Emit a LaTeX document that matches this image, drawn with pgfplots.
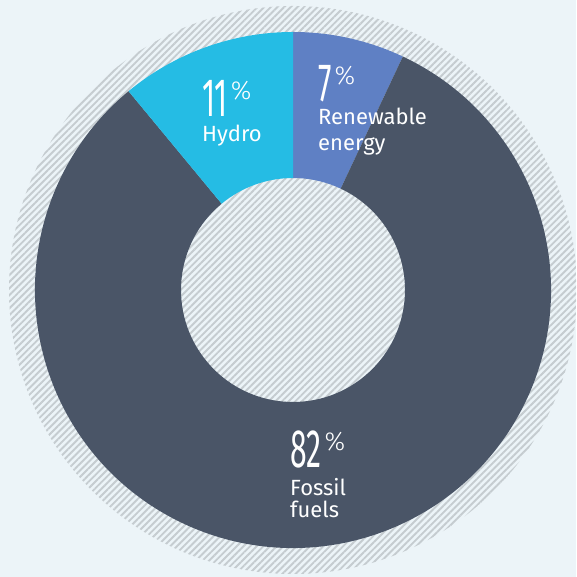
\documentclass[border=0pt]{standalone}
\usepackage{pgfplots}
\pgfplotsset{compat=1.18}
\usepackage{pgfplotstable}
\usepackage{graphicx}
\usepackage{fontspec}
\setmainfont{Fira Sans}
\newfontfamily\lightfont{Fira Sans}[UprightFont={* Light}]
\usetikzlibrary{patterns.meta}

\definecolor{bgcol}{HTML}{ECF4F8}
\definecolor{hatchcol}{HTML}{C5CCD0}
\definecolor{fossil}{HTML}{4A5567}
\definecolor{hydro}{HTML}{25BCE4}
\definecolor{renew}{HTML}{5F80C4}

% shares in percent
\pgfplotstableread{
share
82
11
7
}\sharetable

\newcommand{\bignum}[1]{\scalebox{0.56}[1]{\fontsize{54}{60}\selectfont #1}\hspace{3pt}\raisebox{17pt}{\lightfont\fontsize{26}{30}\selectfont\%}}

\begin{document}
\begin{tikzpicture}
\pgfplotstablegetelem{0}{share}\of\sharetable \let\vfossil\pgfplotsretval
\pgfplotstablegetelem{1}{share}\of\sharetable \let\vhydro\pgfplotsretval
\pgfplotstablegetelem{2}{share}\of\sharetable \let\vrenew\pgfplotsretval
% angles, clockwise from the top
\pgfmathsetmacro\aA{90}
\pgfmathsetmacro\aB{90-3.6*\vrenew}
\pgfmathsetmacro\aC{\aB-3.6*\vfossil}
\pgfmathsetmacro\aD{\aC-3.6*\vhydro}
\def\Ro{258pt}
\def\Ri{112pt}
\begin{axis}[
  scale only axis, width=576pt, height=577pt,
  xmin=-293, xmax=283, ymin=-287, ymax=290,
  axis line style={draw=none}, ticks=none,
  axis background/.style={fill=bgcol},
  clip=true,
]
\fill[pattern={Lines[angle=45, distance=4.7pt, line width=1.9pt]}, pattern color=hatchcol]
  (axis cs:0,0) circle[radius=284pt];
\begin{scope}[shift={(axis cs:0,0)}]
\fill[renew] (\aA:\Ro) arc[start angle=\aA, end angle=\aB, radius=\Ro]
  -- (\aB:\Ri) arc[start angle=\aB, end angle=\aA, radius=\Ri] -- cycle;
\fill[fossil] (\aB:\Ro) arc[start angle=\aB, end angle=\aC, radius=\Ro]
  -- (\aC:\Ri) arc[start angle=\aC, end angle=\aB, radius=\Ri] -- cycle;
\fill[hydro] (\aC:\Ro) arc[start angle=\aC, end angle=\aD, radius=\Ro]
  -- (\aD:\Ri) arc[start angle=\aD, end angle=\aC, radius=\Ri] -- cycle;
\end{scope}

\node[anchor=base west, inner sep=0pt, text=white] at (axis cs:25,188) {\bignum{\vrenew}};
\node[anchor=base west, inner sep=0pt, text=white] at (axis cs:-91,173) {\bignum{\vhydro}};
\node[anchor=base west, inner sep=0pt, text=white] at (axis cs:-3,-178) {\bignum{\vfossil}};

\tikzset{lbl/.style={anchor=base west, inner sep=0pt, text=white, font=\fontsize{22}{26}\selectfont}}
\node[lbl] at (axis cs:25,165) {Renewable};
\node[lbl] at (axis cs:25,139) {energy};
\node[lbl] at (axis cs:-91,148) {Hydro};
\node[lbl] at (axis cs:-3,-206) {Fossil};
\node[lbl] at (axis cs:-3,-228) {fuels};
\end{axis}
\end{tikzpicture}
\end{document}
